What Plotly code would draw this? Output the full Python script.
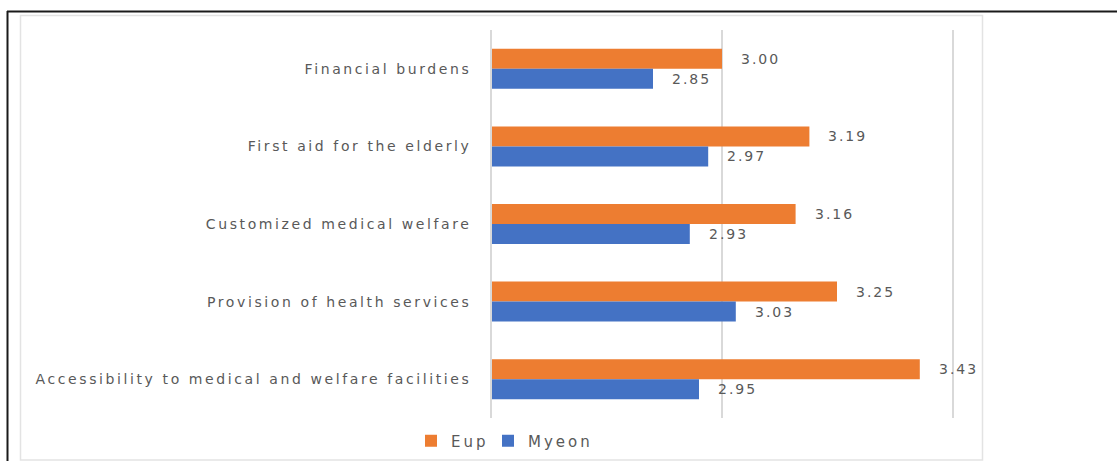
import plotly.graph_objects as go

categories = [
    "Financial burdens",
    "First aid for the elderly",
    "Customized medical welfare",
    "Provision of health services",
    "Accessibility to medical and welfare facilities",
]
eup = [3.00, 3.19, 3.16, 3.25, 3.43]
myeon = [2.85, 2.97, 2.93, 3.03, 2.95]

ORANGE = "#ED7D31"
BLUE = "#4472C4"
TEXT = "#595959"
GRID = "#D9D9D9"
FONT = "DejaVu Sans"

W, H = 1117, 461
L, R, T, B = 492, 952, 30, 418  # plot area in pixels

fig = go.Figure()
fig.add_trace(go.Bar(name="Eup", y=categories, x=eup, orientation="h",
                     marker=dict(color=ORANGE, line=dict(width=0))))
fig.add_trace(go.Bar(name="Myeon", y=categories, x=myeon, orientation="h",
                     marker=dict(color=BLUE, line=dict(width=0))))

# value labels just past each bar end
annotations = []
for vals, shift in ((eup, 10), (myeon, -10)):
    for cat, v in zip(categories, vals):
        annotations.append(dict(
            x=v, y=cat, xref="x", yref="y", text=f"{v:.2f}",
            showarrow=False, xanchor="left", align="left", xshift=17, yshift=shift,
            font=dict(family=FONT, size=14, color=TEXT),
        ))


def px_x(p):
    return (p - L) / (R - L)


def px_y(p):
    return (B - p) / (B - T)


shapes = [
    # outer frame (top and left edges)
    dict(type="line", xref="paper", yref="paper", x0=px_x(7), x1=px_x(1120),
         y0=px_y(11.5), y1=px_y(11.5), line=dict(color="#1a1a1a", width=2)),
    dict(type="line", xref="paper", yref="paper", x0=px_x(7.5), x1=px_x(7.5),
         y0=px_y(11), y1=px_y(475), line=dict(color="#1a1a1a", width=2)),
    # inner chart-area border
    dict(type="rect", xref="paper", yref="paper", x0=px_x(20.5), x1=px_x(982.5),
         y0=px_y(15.5), y1=px_y(460), line=dict(color="#E3E3E3", width=1.5),
         fillcolor="rgba(0,0,0,0)"),
]

fig.update_layout(
    width=W, height=H,
    margin=dict(l=L, r=W - R, t=T, b=H - B, pad=0, autoexpand=False),
    paper_bgcolor="white", plot_bgcolor="white",
    barmode="group", bargap=0.485, bargroupgap=0,
    font=dict(family=FONT, size=14, color=TEXT),
    xaxis=dict(range=[2.5, 3.5], dtick=0.5, tick0=2.5, showgrid=True,
               gridcolor=GRID, gridwidth=1.5, showticklabels=False,
               zeroline=False, showline=False, ticks=""),
    yaxis=dict(autorange="reversed", showgrid=False, showline=True, mirror=True,
               linecolor=GRID, linewidth=1.5, ticks="", ticklabelstandoff=16,
               tickfont=dict(family=FONT, size=14, color=TEXT)),
    legend=dict(orientation="h", x=px_x(411), xanchor="left",
                y=px_y(441), yanchor="middle", bgcolor="rgba(0,0,0,0)",
                font=dict(family=FONT, size=15, color=TEXT),
                itemwidth=30, traceorder="normal",
                entrywidth=32, entrywidthmode="pixels"),
    annotations=annotations,
    shapes=shapes,
    showlegend=True,
)

# wide letter spacing for the chart's text
spacing_js = """
var css = document.createElement('style');
css.textContent = '.ytick text{letter-spacing:2.6px}' +
                  '.annotation-text{letter-spacing:2px}' +
                  '.legendtext{letter-spacing:3px}' +
                  '.legend .scrollbox{clip-path:none !important}';
document.head.appendChild(css);
"""

fig.write_html("out.html", post_script=spacing_js)
